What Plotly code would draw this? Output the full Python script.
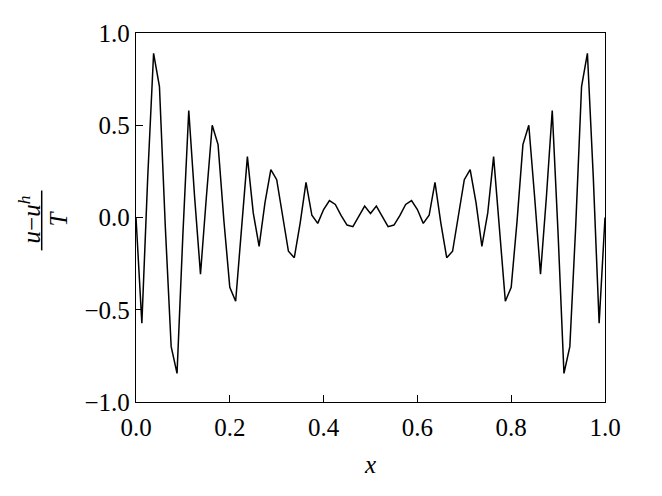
import plotly.graph_objects as go

n_intervals = 80
# left half values (k = 0..40); the profile is symmetric about x = 0.5
left_vals = [0.0, -0.573, 0.22, 0.89, 0.71, -0.05, -0.70, -0.845, -0.09, 0.58,
             0.11, -0.307, 0.11, 0.50, 0.395, -0.02, -0.378, -0.454, -0.06, 0.33,
             0.025, -0.156, 0.08, 0.26, 0.205, 0.01, -0.183, -0.218, -0.03, 0.19,
             0.012, -0.032, 0.043, 0.092, 0.071, 0.01, -0.041, -0.05, 0.006, 0.062,
             0.022]
right_vals = left_vals[-2::-1]
y_vals = left_vals + right_vals
x_vals = [k / n_intervals for k in range(n_intervals + 1)]

x_ticks = [0.0, 0.2, 0.4, 0.6, 0.8, 1.0]
y_ticks = [-1.0, -0.5, 0.0, 0.5, 1.0]

FONT = "Liberation Serif"
BODY = 8  # default page body margin offset

fig = go.Figure()
fig.add_trace(go.Scatter(x=x_vals, y=y_vals, mode="lines",
                         line=dict(color="black", width=1.5), showlegend=False))

axis_common = dict(showline=True, linecolor="black", linewidth=1.3, mirror=True,
                   ticks="inside", ticklen=7, tickwidth=1.2, tickcolor="black",
                   showgrid=False, zeroline=False, tickformat=".1f",
                   tickfont=dict(family=FONT, size=25, color="black"))

fig.update_layout(
    width=662, height=496,
    margin=dict(l=136 - BODY, r=57 + BODY, t=26 - BODY, b=94 + BODY),
    plot_bgcolor="white", paper_bgcolor="white",
    font=dict(family=FONT, color="black"),
    xaxis=dict(range=[0, 1], tickvals=x_ticks, ticklabelstandoff=3,
               title=dict(text="<i>x</i>", font=dict(family=FONT, size=25), standoff=15),
               **axis_common),
    yaxis=dict(range=[-1, 1], tickvals=y_ticks, ticklabelstandoff=0, **axis_common),
)

def px_to_paper_x(px):
    return (px - 136) / 469

def py_to_paper_y(py):
    return (402 - py) / 376

# y-axis label as a rotated fraction: (u - u^h) / T
fig.add_annotation(text="<i>u</i>−<i>u</i><sup><i>h</i></sup>", textangle=-90,
                   xref="paper", yref="paper", x=px_to_paper_x(30), y=py_to_paper_y(216),
                   xanchor="center", yanchor="middle",
                   showarrow=False, font=dict(family=FONT, size=25, color="black"))
fig.add_annotation(text="<i>T</i>", textangle=-90,
                   xref="paper", yref="paper", x=px_to_paper_x(58), y=py_to_paper_y(215),
                   xanchor="center", yanchor="middle",
                   showarrow=False, font=dict(family=FONT, size=25, color="black"))
fig.add_shape(type="line", xref="paper", yref="paper",
              x0=px_to_paper_x(41.7), x1=px_to_paper_x(41.7),
              y0=py_to_paper_y(186.5), y1=py_to_paper_y(247.5),
              line=dict(color="black", width=1.5))

fig.write_html("out.html")
